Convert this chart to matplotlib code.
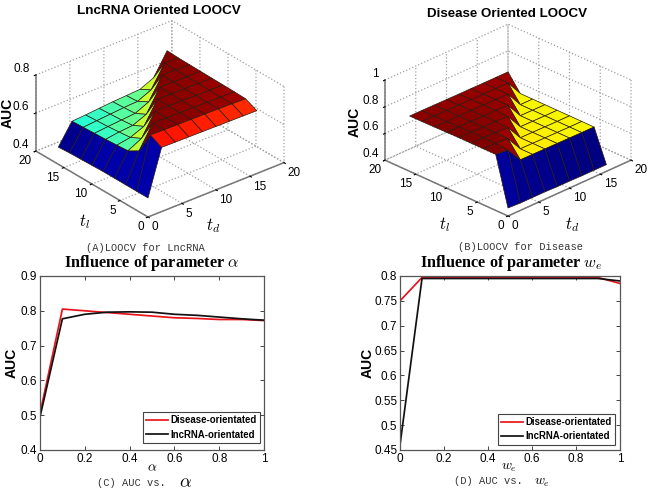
import numpy as np
import matplotlib
matplotlib.use('Agg')
import matplotlib.pyplot as plt
from mpl_toolkits.mplot3d import proj3d

plt.rcParams['font.family'] = ['Liberation Sans', 'DejaVu Sans']
plt.rcParams['mathtext.fontset'] = 'cm'

W, H = 648, 493

# surface grids, rows are t_l, columns are t_d
grid_td = [0, 2, 4, 6, 8, 10, 12, 14, 16]
grid_tl = [0, 2, 4, 6, 8, 10, 12, 14, 16]

auc_lncrna = [
    [.500, .737, .736, .735, .734, .733, .732, .731, .730],
    [.500, .768, .766, .765, .764, .763, .762, .760, .758],
    [.500, .650, .766, .765, .764, .763, .762, .761, .760],
    [.500, .615, .652, .766, .765, .764, .763, .762, .761],
    [.500, .610, .622, .652, .766, .765, .764, .763, .762],
    [.498, .606, .616, .622, .652, .766, .765, .764, .763],
    [.496, .603, .610, .616, .622, .654, .766, .765, .764],
    [.494, .600, .606, .612, .618, .622, .654, .766, .765],
    [.490, .597, .602, .608, .614, .618, .622, .654, .768],
]

auc_disease = [
    [.460, .455, .455, .455, .452, .452, .450, .450, .450],
    [.820, .810, .695, .694, .693, .692, .691, .690, .690],
    [.820, .818, .810, .694, .693, .692, .691, .690, .690],
    [.820, .818, .816, .810, .693, .692, .691, .690, .690],
    [.820, .818, .816, .815, .810, .692, .691, .690, .690],
    [.818, .817, .816, .815, .814, .810, .691, .690, .690],
    [.816, .815, .815, .814, .813, .812, .810, .690, .690],
    [.815, .815, .814, .813, .812, .811, .811, .810, .690],
    [.814, .814, .813, .812, .811, .811, .810, .810, .810],
]

param_x = [0, .1, .2, .3, .4, .5, .6, .7, .8, .9, 1]
alpha_disease = [.505, .805, .800, .795, .790, .785, .780, .778, .775, .775, .772]
alpha_lncrna = [.495, .777, .790, .796, .797, .796, .790, .787, .782, .777, .773]
we_disease = [.750, .797, .797, .797, .797, .797, .797, .797, .797, .797, .785]
we_lncrna = [.460, .795, .795, .795, .795, .795, .795, .795, .795, .795, .790]

x_ticks = [0, .2, .4, .6, .8, 1]
x_labels = ['0', '0.2', '0.4', '0.6', '0.8', '1']
alpha_yticks = [.4, .5, .6, .7, .8, .9]
alpha_ylabels = ['0.4', '0.5', '0.6', '0.7', '0.8', '0.9']
we_yticks = [.45, .5, .55, .6, .65, .7, .75, .8]
we_ylabels = ['0.45', '0.5', '0.55', '0.6', '0.65', '0.7', '0.75', '0.8']
grid_ticks = [0, 5, 10, 15, 20]

fig = plt.figure(figsize=(W / 100, H / 100), dpi=100)


def put(px, py, s, **kw):
    kw.setdefault('ha', 'center')
    kw.setdefault('va', 'center')
    fig.text(px / W, 1 - py / H, s, **kw)


def corner_px(ax, x, y, z):
    xp, yp, _ = proj3d.proj_transform(x, y, z, ax.get_proj())
    px, py = ax.transData.transform((xp, yp))
    return px, H - py


def surface(rect, z_vals, zlim, zticks, zlabels, azim, elev, z_aspect, origin, right):
    ax = fig.add_axes(rect, projection='3d')
    ax.set_proj_type('ortho')
    ax.view_init(elev=elev, azim=azim)
    ax.set_box_aspect((1, 1, z_aspect), zoom=1.0)
    ax.patch.set_alpha(0)

    td, tl = np.meshgrid(grid_td, grid_tl)
    z = np.array(z_vals)
    # matlab style flat faces, colour comes from the first corner
    norm = plt.Normalize(z.min(), z.max())
    colors = matplotlib.colormaps['jet'](norm(z))
    ax.plot_surface(td, tl, z, facecolors=colors, rstride=1, cstride=1, shade=False,
                    edgecolor='#2a1a10', linewidth=0.5)

    ax.set_xlim(0, 20, view_margin=0)
    ax.set_ylim(0, 20, view_margin=0)
    ax.set_zlim(zlim[0], zlim[1], view_margin=0)
    ax.set_xticks(grid_ticks)
    ax.set_yticks(grid_ticks)
    ax.set_zticks(zticks)
    ax.set_zticklabels(zlabels)
    ax.tick_params(axis='x', labelsize=8.5, pad=-5)
    ax.tick_params(axis='y', labelsize=8.5, pad=-5)
    ax.tick_params(axis='z', labelsize=8.5, pad=-5.5)
    plt.setp(ax.get_xticklabels(), ha='left')
    plt.setp(ax.get_yticklabels(), ha='right')
    plt.setp(ax.get_zticklabels(), ha='right', va='bottom')
    for a in (ax.xaxis, ax.yaxis, ax.zaxis):
        a.set_pane_color((1, 1, 1, 0))
        a.pane.set_edgecolor((1, 1, 1, 0))
        a.line.set_color('#777777')
        a.line.set_linewidth(1.1)
        a._axinfo['grid'].update(color='#a0a0a0', linestyle=':', linewidth=0.9)
        a._axinfo['tick'].update(inward_factor=0.15, outward_factor=0.0)

    # move and scale the axes so the floor corners land where they should
    for i in range(3):
        fig.canvas.draw()
        o = corner_px(ax, 0, 0, zlim[0])
        r = corner_px(ax, 20, 0, zlim[0])
        s = (right[0] - origin[0]) / (r[0] - o[0])
        p = ax.get_position(original=True)
        w, h = p.width * s, p.height * s
        ax.set_position([p.x0, p.y0, w, h])
        fig.canvas.draw()
        o = corner_px(ax, 0, 0, zlim[0])
        p = ax.get_position(original=True)
        ax.set_position([p.x0 + (origin[0] - o[0]) / W, p.y0 - (origin[1] - o[1]) / H, p.width, p.height])
    return ax


ax_a = surface([0.02, 0.5, 0.45, 0.5], auc_lncrna, (.4, .8), [.4, .6, .8], ['0.4', '0.6', '0.8'],
               -129.5, 29, 0.494, (148, 217), (284, 164))
ax_b = surface([0.52, 0.5, 0.45, 0.5], auc_disease, (.4, 1), [.4, .6, .8, 1], ['0.4', '0.6', '0.8', '1'],
               -135, 27, 0.517, (508, 216), (631, 160))


def line_panel(left, right, top, bottom, y1, y2, ylim, yticks, ylabels, loc_box):
    ax = fig.add_axes([left / W, 1 - bottom / H, (right - left) / W, (bottom - top) / H])
    ax.plot(param_x, y1, color='#e8141c', linewidth=1.25, label='Disease-orientated')
    ax.plot(param_x, y2, color='#111111', linewidth=1.25, label='lncRNA-orientated')
    ax.set_xlim(0, 1)
    ax.set_ylim(ylim)
    ax.set_xticks(x_ticks)
    ax.set_xticklabels(x_labels)
    ax.set_yticks(yticks)
    ax.set_yticklabels(ylabels)
    ax.tick_params(direction='in', top=True, right=True, labelsize=8.5, length=3, width=0.7,
                   color='#444444', pad=2)
    for s in ax.spines.values():
        s.set_color('#555555')
        s.set_linewidth(0.9)
    leg = ax.legend(loc='lower right', bbox_to_anchor=loc_box, fancybox=False, framealpha=1,
                    edgecolor='#444444', prop={'weight': 'bold', 'size': 6.9}, labelspacing=0.45,
                    handlelength=2.3, handletextpad=0.25, borderpad=0.35, borderaxespad=0)
    leg.get_frame().set_linewidth(0.8)
    return ax


line_panel(40, 264, 276, 450, alpha_disease, alpha_lncrna, (.4, .9), alpha_yticks, alpha_ylabels, (0.982, 0.04))
line_panel(400, 620, 276, 450, we_disease, we_lncrna, (.45, .8), we_yticks, we_ylabels, (0.977, 0.03))

# titles
put(159, 11, 'LncRNA Oriented LOOCV', fontsize=9.7, fontweight='bold')
put(507, 14, 'Disease Oriented LOOCV', fontsize=9.6, fontweight='bold')
put(152, 263, r'Influence of parameter $\alpha$', fontsize=11.7, fontweight='bold', family='Liberation Serif')
put(511, 263, r'Influence of parameter $w_e$', fontsize=11.7, fontweight='bold', family='Liberation Serif')

# axis labels
put(8, 113, 'AUC', fontsize=10, fontweight='bold', rotation=90)
put(355, 122, 'AUC', fontsize=10, fontweight='bold', rotation=90)
put(12, 363, 'AUC', fontsize=10, fontweight='bold', rotation=90)
put(368, 363, 'AUC', fontsize=10, fontweight='bold', rotation=90)
put(85, 222, r'$t_l$', fontsize=12)
put(213, 226, r'$t_d$', fontsize=12)
put(445, 225, r'$t_l$', fontsize=12)
put(572, 225, r'$t_d$', fontsize=12)
put(152, 467, r'$\alpha$', fontsize=10)
put(509, 467, r'$w_e$', fontsize=10)

# captions under the panels
cap = dict(fontsize=7.5, family='Liberation Mono', color='#333333')
put(145, 248, '(A)LOOCV for LncRNA', **cap)
put(521, 247, '(B)LOOCV for Disease', **cap)
put(131, 483, '(C) AUC vs.', **cap)
put(488, 481, '(D) AUC vs.', **cap)
put(185, 483, r'$\alpha$', fontsize=13)
put(542, 482, r'$w_e$', fontsize=10)

fig.savefig('out.png', dpi=100)
